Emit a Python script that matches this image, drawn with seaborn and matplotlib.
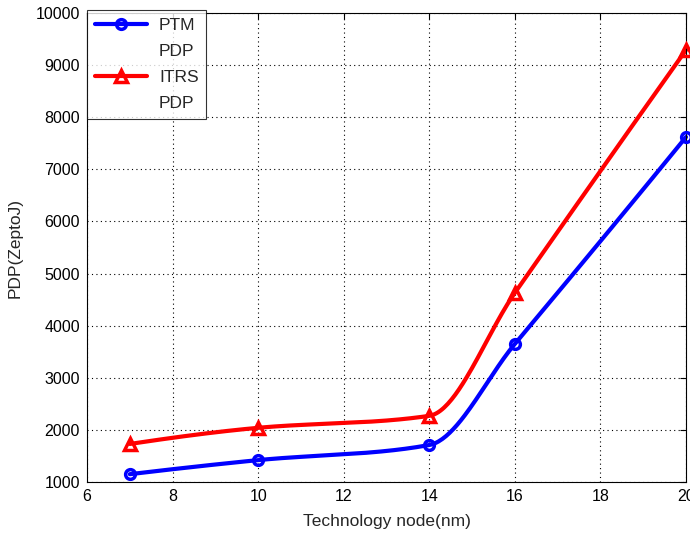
import numpy as np
import pandas as pd
import matplotlib
matplotlib.use("Agg")
import matplotlib.pyplot as plt
from matplotlib.lines import Line2D
import seaborn as sns

# Technology node (nm) and power-delay product (zeptojoules)
nodes = [7, 10, 14, 16, 20]
ptm_pdp = [1150, 1420, 1710, 3650, 7620]
itrs_pdp = [1730, 2040, 2270, 4630, 9290]


def pchip(x, y, xs):
    """Shape-preserving piecewise cubic interpolation."""
    x = np.asarray(x, float)
    y = np.asarray(y, float)
    h = np.diff(x)
    d = np.diff(y) / h
    n = len(x)
    m = np.zeros(n)
    for k in range(1, n - 1):
        if d[k - 1] * d[k] <= 0:
            m[k] = 0.0
        else:
            w1 = 2 * h[k] + h[k - 1]
            w2 = h[k] + 2 * h[k - 1]
            m[k] = (w1 + w2) / (w1 / d[k - 1] + w2 / d[k])

    def end(h0, h1, d0, d1):
        s = ((2 * h0 + h1) * d0 - h0 * d1) / (h0 + h1)
        if np.sign(s) != np.sign(d0):
            s = 0.0
        elif np.sign(d0) != np.sign(d1) and abs(s) > abs(3 * d0):
            s = 3 * d0
        return s

    m[0] = end(h[0], h[1], d[0], d[1])
    m[-1] = end(h[-1], h[-2], d[-1], d[-2])
    out = np.empty_like(xs, dtype=float)
    idx = np.clip(np.searchsorted(x, xs) - 1, 0, n - 2)
    for i, xv in enumerate(xs):
        k = idx[i]
        t = (xv - x[k]) / h[k]
        h00 = 2 * t**3 - 3 * t**2 + 1
        h10 = t**3 - 2 * t**2 + t
        h01 = -2 * t**3 + 3 * t**2
        h11 = t**3 - t**2
        out[i] = h00 * y[k] + h10 * h[k] * m[k] + h01 * y[k + 1] + h11 * h[k] * m[k + 1]
    return out


xs = np.linspace(nodes[0], nodes[-1], 300)
curves = pd.DataFrame({
    "node": np.concatenate([xs, xs]),
    "pdp": np.concatenate([pchip(nodes, ptm_pdp, xs), pchip(nodes, itrs_pdp, xs)]),
    "series": ["PTM"] * len(xs) + ["ITRS"] * len(xs),
})
points = pd.DataFrame({
    "node": nodes + nodes,
    "pdp": ptm_pdp + itrs_pdp,
    "series": ["PTM"] * len(nodes) + ["ITRS"] * len(nodes),
})

sns.set_style("white")
plt.rcParams["font.family"] = ["Liberation Sans", "DejaVu Sans"]

fig = plt.figure(figsize=(6.9, 5.36), dpi=100)
ax = fig.add_axes([87 / 690, 1 - 482 / 536, (686 - 87) / 690, (482 - 13) / 536])

palette = {"PTM": "#0000ff", "ITRS": "#ff0000"}
sns.lineplot(data=curves, x="node", y="pdp", hue="series", palette=palette,
             linewidth=3, ax=ax, legend=False, clip_on=False)
ptm_pts = points[points.series == "PTM"]
itrs_pts = points[points.series == "ITRS"]
ax.plot(ptm_pts.node, ptm_pts.pdp, linestyle="none", marker="o", markersize=7,
        markerfacecolor="none", markeredgecolor="#0000ff", markeredgewidth=2.5,
        clip_on=False, zorder=5)
ax.plot(itrs_pts.node, itrs_pts.pdp, linestyle="none", marker="^", markersize=9,
        markerfacecolor="none", markeredgecolor="#ff0000", markeredgewidth=2.5,
        clip_on=False, zorder=5)

ax.set_xlim(6, 20)
ax.set_ylim(1000, 10000)
ax.set_xticks(range(6, 21, 2))
ax.set_yticks(range(1000, 10001, 1000))
ax.grid(True, color="black", linestyle=(0, (1, 3)), linewidth=0.8)
ax.tick_params(direction="in", length=4, top=True, right=True, labelsize=11.5,
               colors="black", width=0.8, pad=5)
for s in ax.spines.values():
    s.set_visible(True)
    s.set_color("black")
    s.set_linewidth(0.8)

ax.set_xlabel("Technology node(nm)", fontsize=12.5)
ax.set_ylabel("PDP(ZeptoJ)", fontsize=12.5)
ax.xaxis.set_label_coords(0.5, -0.068)
ax.yaxis.set_label_coords(-0.108, 0.5)

blank = Line2D([], [], linestyle="none")
handles = [
    Line2D([], [], color="#0000ff", linewidth=3, marker="o", markersize=7,
           markerfacecolor="none", markeredgewidth=2.5),
    blank,
    Line2D([], [], color="#ff0000", linewidth=3, marker="^", markersize=9,
           markerfacecolor="none", markeredgewidth=2.5),
    blank,
]
labels = ["PTM", "PDP", "ITRS", "PDP"]
leg = ax.legend(handles, labels, loc="upper left", bbox_to_anchor=(0, 1.006),
                frameon=True, fancybox=False, edgecolor="black", fontsize=12.5,
                handlelength=3.0, labelspacing=0.62, borderpad=0.45,
                handletextpad=0.7, borderaxespad=0)
leg.get_frame().set_linewidth(0.8)

fig.savefig("out.png", dpi=100)
